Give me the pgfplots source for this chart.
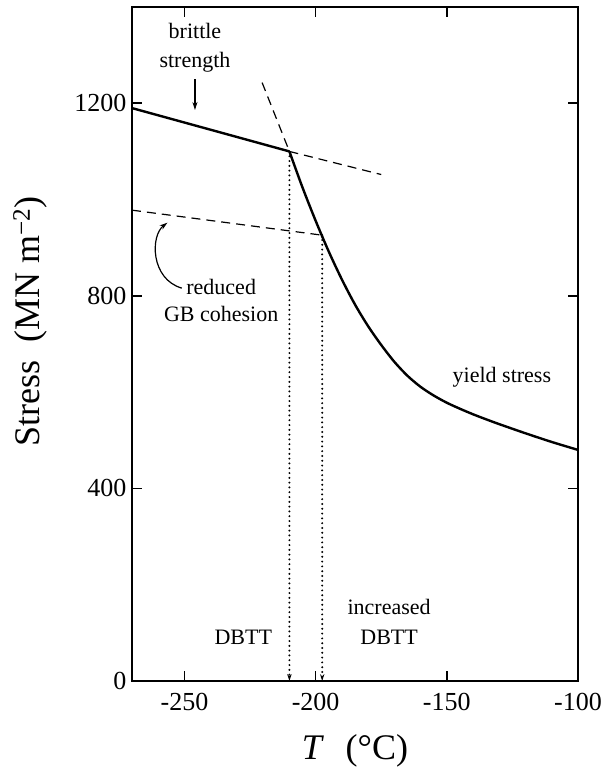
\documentclass[border=0pt]{standalone}
\usepackage{fontspec}
\setmainfont{Liberation Serif}
\usepackage{pgfplots}
\pgfplotsset{compat=1.18}
\usetikzlibrary{arrows.meta}
\begin{document}
\begin{tikzpicture}
\begin{axis}[
  scale only axis, width=446pt, height=674pt,
  xmin=-270, xmax=-100, ymin=0, ymax=1400,
  xtick={-250,-200,-150,-100}, ytick={0,400,800,1200},
  xticklabels={-250,-200,-150,-100},
  yticklabels={0,400,800,1200},
  tick align=inside, major tick length=10pt,
  tick style={line width=1.6pt, black},
  axis line style={line width=2pt},
  tick label style={font=\fontsize{26}{30}\selectfont},
  xticklabel style={yshift=-9pt},
  yticklabel style={xshift=-2pt},
  xlabel={\textit{T}\hspace{0.6em}(°C)},
  ylabel={Stress\hspace{0.5em}(MN m\textsuperscript{−2})},
  label style={font=\fontsize{36}{40}\selectfont},
  xlabel style={at={(axis description cs:0.5,-0.103)}, anchor=center},
  ylabel style={at={(axis description cs:-0.2287,0.533)}, anchor=center},
  clip=false]
\coordinate (sw) at (rel axis cs:0,0);
% brittle strength
\addplot[line width=2.4pt, black] coordinates {(-270,1190) (-210,1100)};
% yield stress
\addplot[line width=2.4pt, black, smooth, tension=0.5] coordinates {
 (-210,1100) (-205,1025) (-200,956) (-195,892) (-190,834) (-185,782)
 (-180,737) (-175,698) (-170,663) (-165,634) (-160,611) (-155,593)
 (-150,578) (-145,565.5) (-140,554) (-135,543.5) (-130,533.5)
 (-120,514.5) (-110,496.5) (-100,480)};
% dashed extrapolations
\addplot[line width=1.2pt, black, dash pattern=on 9pt off 6pt] coordinates {(-220.4,1243) (-210,1100)};
\addplot[line width=1.2pt, black, dash pattern=on 9pt off 6pt] coordinates {(-210,1100) (-175,1052)};
\addplot[line width=1.2pt, black, dash pattern=on 9pt off 6pt] coordinates {(-270,978) (-197.5,926)};
% dotted DBTT lines
\addplot[line width=2.2pt, black, line cap=round, dash pattern=on 0pt off 4.8pt, -{Stealth[length=7pt,width=4.5pt,line width=0pt]}] coordinates {(-210,1100) (-210,0)};
\addplot[line width=2.2pt, black, line cap=round, dash pattern=on 0pt off 4.8pt, -{Stealth[length=7pt,width=4.5pt,line width=0pt]}] coordinates {(-197.5,926) (-197.5,0)};
% annotations
\draw[line width=1.2pt, -{Stealth[length=8pt,width=5pt]}] (axis cs:-246,1250) -- (axis cs:-246,1186);
\draw[line width=1.2pt, -{Stealth[length=8pt,width=5pt]}] (axis cs:-251,816) .. controls (axis cs:-263,835) and (axis cs:-263,925) .. (axis cs:-256.5,952);
\node[font=\fontsize{22}{29}\selectfont, align=center] at (axis cs:-246,1315) {brittle\\strength};
\node[font=\fontsize{22}{27}\selectfont, align=center] at (axis cs:-236,791) {reduced\\GB cohesion};
\node[font=\fontsize{22}{27}\selectfont] at (axis cs:-227.6,91) {DBTT};
\node[font=\fontsize{22}{30}\selectfont, align=center] at (axis cs:-172,122) {increased\\DBTT};
\node[font=\fontsize{22}{27}\selectfont] at (axis cs:-129,630) {yield stress};
\end{axis}
\pgfresetboundingbox
\path (sw) +(-132pt,-91pt) rectangle +(471pt,681pt);
\end{tikzpicture}
\end{document}
